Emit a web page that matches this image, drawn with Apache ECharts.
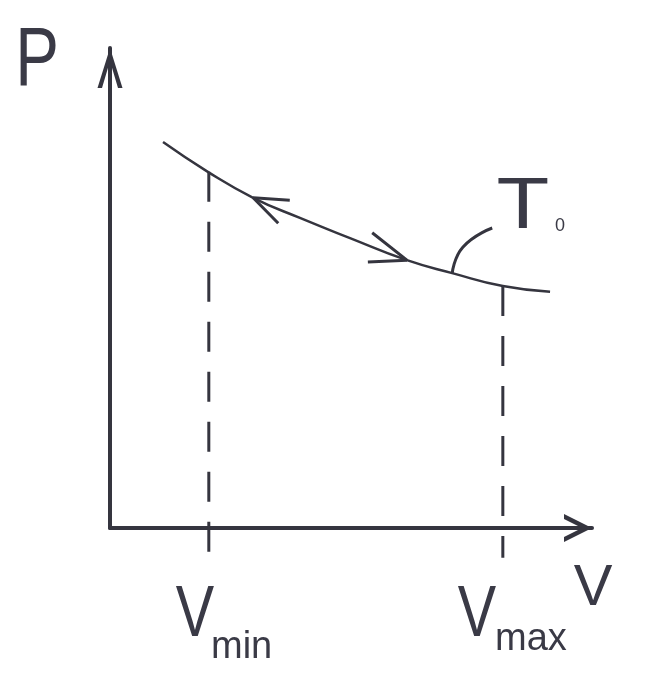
<!DOCTYPE html>
<html><head><meta charset="utf-8">
<script src="https://cdn.jsdelivr.net/npm/echarts@6/dist/echarts.min.js"></script>
<style>html,body{margin:0;padding:0;background:#fff}#c{width:655px;height:685px}</style>
</head><body><div id="c"></div>
<script>
// Isotherm at T0 in a P–V diagram (arbitrary units)
const curveV = [1.10, 2.03, 2.97, 3.94, 4.98, 6.16, 7.10, 8.15, 9.13];
const curveP = [8.04, 7.42, 6.88, 6.46, 6.04, 5.58, 5.31, 5.04, 4.92];
const markV = [2.05, 8.15];            // Vmin, Vmax
const markTopP = [7.42, 5.04];
const markBottomP = [-0.72, -0.62];
// arrowheads drawn on the isotherm (barb, tip, barb)
const arrowLeftV = [3.73, 2.97, 3.49];
const arrowLeftP = [6.83, 6.88, 6.35];
const arrowRightV = [5.44, 6.16, 5.35];
const arrowRightP = [6.15, 5.58, 5.54];
// leader from the curve to the T0 label
const leaderV = [7.10, 7.32, 7.93];
const leaderP = [5.31, 5.85, 6.25];
const axisNames = ['P', 'V'];
const markNames = [['V', 'min'], ['V', 'max']];
const curveName = ['T', '0'];

const INK = '#35353f';
const FONT = '"Liberation Sans", Arial, sans-serif';
const zip = (a, b) => a.map((v, i) => [v, b[i]]);
const chevY = 'path://M0,40 L12.5,0 L25,40 L20.5,40 L12.5,13 L4.5,40 Z';
const chevX = 'path://M0,28 L14,0 L28,28 L23,28 L14,10 L5,28 Z';

const series = [
  { type: 'line', data: zip(curveV, curveP), smooth: true, symbol: 'none',
    lineStyle: { color: INK, width: 2.5 } },
  { type: 'line', data: zip(arrowLeftV, arrowLeftP), symbol: 'none',
    lineStyle: { color: INK, width: 3 } },
  { type: 'line', data: zip(arrowRightV, arrowRightP), symbol: 'none',
    lineStyle: { color: INK, width: 3 } },
  { type: 'line', data: zip(leaderV, leaderP), smooth: true, symbol: 'none',
    lineStyle: { color: INK, width: 3 } }
];
markV.forEach((v, i) => {
  series.push({ type: 'line', clip: false, symbol: 'none',
    data: [[v, markTopP[i]], [v, markBottomP[i]]],
    lineStyle: { color: INK, width: 3, type: [30, 20] } });
});

const txt = (s, x, y, size, align, sx) => ({
  type: 'text', x, y, silent: true, scaleX: sx || 1,
  style: { text: s, font: size + 'px ' + FONT, fill: '#3a3a46',
    textAlign: align || 'center', textVerticalAlign: 'middle',
    align: align || 'center', verticalAlign: 'middle' }
});

const chart = echarts.init(document.getElementById('c'), null, { renderer: 'canvas' });
chart.setOption({
  backgroundColor: '#ffffff',
  animation: false,
  grid: { left: 110, top: 48, width: 482, height: 480, outerBoundsMode: 'none' },
  xAxis: { type: 'value', min: 0, max: 10,
    axisLine: { show: true, onZero: true, symbol: ['none', chevX], symbolSize: [28, 28],
      symbolOffset: [0, -14], lineStyle: { color: INK, width: 4 } },
    axisTick: { show: false }, axisLabel: { show: false }, splitLine: { show: false } },
  yAxis: { type: 'value', min: 0, max: 10,
    axisLine: { show: true, symbol: ['none', chevY], symbolSize: [25, 40],
      symbolOffset: [0, -20], lineStyle: { color: INK, width: 4 } },
    axisTick: { show: false }, axisLabel: { show: false }, splitLine: { show: false } },
  series,
  graphic: [
    txt(axisNames[0], 37, 62, 84, 'center', 0.78),
    txt(axisNames[1], 593, 589, 58),
    txt(markNames[0][0], 195, 616, 72, 'center', 0.8),
    txt(markNames[0][1], 211, 648, 38, 'left'),
    txt(markNames[1][0], 477, 616, 72, 'center', 0.8),
    txt(markNames[1][1], 495, 640, 38, 'left'),
    txt(curveName[0], 523, 208, 72, 'center', 1.2),
    txt(curveName[1], 560, 226, 18)
  ]
});
</script></body></html>
